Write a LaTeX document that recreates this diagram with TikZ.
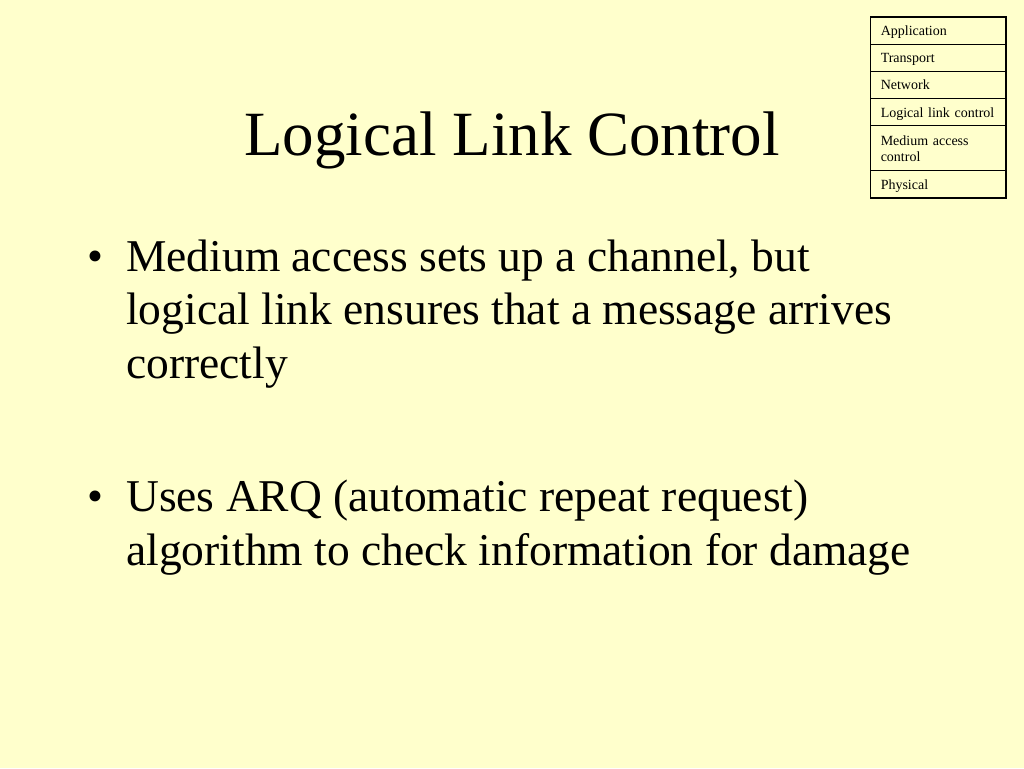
\documentclass[tikz,border=0pt]{standalone}
\usepackage{fontspec}
\setmainfont{Liberation Serif}
\usetikzlibrary{positioning}
\definecolor{slideyellow}{HTML}{FFFFCC}

\begin{document}
\begin{tikzpicture}[x=1pt, y=-1pt,
		layer/.style={draw, line width=1pt, outer sep=0pt, minimum width=136pt, minimum height=27.2pt,
			text width=114.5pt, inner xsep=10.75pt, inner ysep=0pt, align=left,
			font=\fontsize{14}{16}\selectfont},
		row/.style={layer, text depth=0pt},
		item/.style={inner sep=0pt, align=left, font=\fontsize{45.5}{53.5}\selectfont},
		dot/.style={inner sep=0pt, font=\fontsize{45.5}{53.5}\selectfont}]
	\fill[slideyellow] (0,0) rectangle (1024,768);

	\node [anchor=base, font=\fontsize{63}{72}\selectfont] (title) at (512,155) {Logical Link Control};

	% layer stack
	\node [row, anchor=north] (app) at (938,17) {Application};
	\node [row, below=0pt of app] (trans) {Transport};
	\node [row, below=0pt of trans] (net) {Network};
	\node [row, below=0pt of net] (llc) {Logical link control};
	\node [layer, below=0pt of llc, minimum height=45pt] (mac) {Medium access\\control};
	\node [row, below=0pt of mac] (phys) {Physical};
	\draw [line width=2pt] (app.north west) -- (app.north east) -- (phys.south east) -- (phys.south west);

	% bullets
	\node [dot] (dot1) at (95,261) {•};
	\node [item, anchor=base west] (item1) at (126,378)
		{Medium access sets up a channel, but\\logical link ensures that a message arrives\\correctly};
	\node [dot] (dot2) at (95,501) {•};
	\node [item, anchor=base west] (item2) at (126,565)
		{Uses ARQ (automatic repeat request)\\algorithm to check information for damage};
\end{tikzpicture}
\end{document}
